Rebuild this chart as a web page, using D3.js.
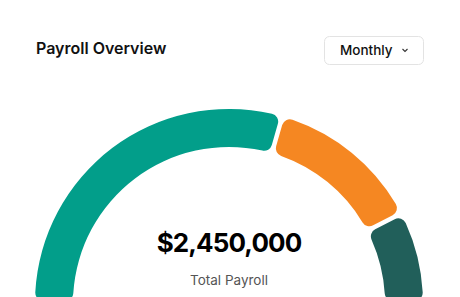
<!DOCTYPE html>
<html>
<head>
<meta charset="utf-8">
<script src="https://cdn.jsdelivr.net/npm/d3@7"></script>
<style>
  body { margin: 0; background: #fff; }
  svg { display: block; font-family: Inter, "Noto Sans", sans-serif; }
</style>
</head>
<body>
<script>
// payroll breakdown (sums to total)
const categories = ['Salaries', 'Benefits', 'Taxes'];
const amounts = [1453000, 630000, 367000];
const colors = ['#029e8a', '#f58722', '#215f5a'];
const title = 'Payroll Overview';
const periodLabel = 'Monthly';
const centerLabel = 'Total Payroll';

let width = 460, height = 297;
let cx = 229, cy = 303;
let outerR = 194, innerR = 156;

let svg = d3.select('body').append('svg')
    .attr('width', width)
    .attr('height', height);

// header
svg.append('text').text(title)
    .attr('x', 36)
    .attr('y', 54)
    .style('font-size', '16px')
    .style('font-weight', 600)
    .style('fill', '#111');

let dd = svg.append('g').attr('transform', 'translate(324, 36)');
dd.append('rect')
    .attr('x', 0.5).attr('y', 0.5)
    .attr('width', 99).attr('height', 28)
    .attr('rx', 5)
    .style('fill', '#fff')
    .style('stroke', '#e3e3e3');
dd.append('text').text(periodLabel)
    .attr('x', 16)
    .attr('y', 19)
    .style('font-size', '13.5px')
    .style('font-weight', 500)
    .style('fill', '#111');
dd.append('path')
    .attr('d', 'M78.5,13 L81,15.5 L83.5,13')
    .style('fill', 'none')
    .style('stroke', '#333')
    .style('stroke-width', 1.1);

// gauge
let pie = d3.pie()
    .sort(null)
    .startAngle(-Math.PI / 2)
    .endAngle(Math.PI / 2)
    .padAngle(0.018);

let arc = d3.arc()
    .innerRadius(innerR)
    .outerRadius(outerR)
    .cornerRadius(8);

let g = svg.append('g').attr('transform', `translate(${cx}, ${cy})`);
g.selectAll('path.seg')
    .data(pie(amounts))
    .enter().append('path')
    .attr('class', 'seg')
    .attr('d', arc)
    .style('fill', (d, i) => colors[i]);

let total = d3.sum(amounts);
svg.append('text').text(d3.format('$,')(total))
    .attr('x', cx)
    .attr('y', 252)
    .attr('text-anchor', 'middle')
    .style('font-size', '26px')
    .style('font-weight', 700)
    .style('letter-spacing', '-0.9px')
    .style('fill', '#000');

svg.append('text').text(centerLabel)
    .attr('x', cx)
    .attr('y', 285)
    .attr('text-anchor', 'middle')
    .style('font-size', '13.5px')
    .style('fill', '#555');
</script>
</body>
</html>
